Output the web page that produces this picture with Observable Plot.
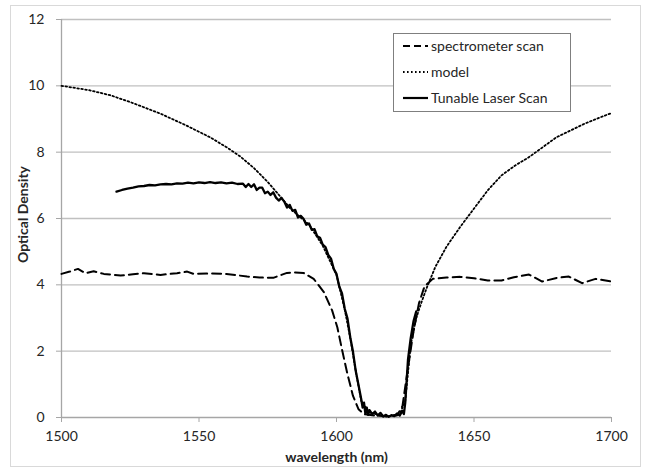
<!DOCTYPE html>
<html>
<head>
<meta charset="utf-8">
<script src="https://cdn.jsdelivr.net/npm/d3@7"></script>
<script src="https://cdn.jsdelivr.net/npm/@observablehq/plot@0.6"></script>
<style>
  body { margin: 0; background: #fff; }
  #chart { position: relative; width: 647px; height: 467px; font-family: Lato, "Open Sans", sans-serif; }
  #chart .outer { position: absolute; left: 10px; top: 5px; width: 631px; height: 462px; border: 1px solid #d9d9d9; box-sizing: border-box; pointer-events: none; }
  #chart .legend { position: absolute; left: 393px; top: 33px; }
</style>
</head>
<body>
<div id="chart"><div class="outer"></div></div>
<script>
// Axis ticks
const xTicks = [1500, 1550, 1600, 1650, 1700];
const yTicks = [0, 2, 4, 6, 8, 10, 12];

// Series names
const seriesNames = ["spectrometer scan", "model", "Tunable Laser Scan"];

// spectrometer scan: [wavelength nm, optical density]
const spectrometerScan = [
  [1500, 4.33], [1503, 4.40], [1506, 4.48], [1508.7, 4.35], [1511.7, 4.41], [1515.4, 4.33],
  [1521.5, 4.28], [1526, 4.32], [1530, 4.35], [1536, 4.30], [1542, 4.35], [1545.7, 4.40],
  [1548, 4.33], [1554, 4.34], [1560, 4.33], [1567.5, 4.25], [1572, 4.22], [1577, 4.21],
  [1582, 4.36], [1585, 4.37], [1588, 4.36], [1591.7, 4.18], [1595.4, 3.78], [1598.4, 3.23],
  [1600.3, 2.72], [1602, 2.05], [1604, 1.30], [1606, 0.65], [1608, 0.25], [1610, 0.10],
  [1614, 0.06], [1618, 0.04], [1622, 0.06], [1624, 0.35], [1626, 1.50], [1628, 2.60],
  [1630, 3.45], [1632, 3.95], [1635, 4.18], [1640, 4.22], [1645, 4.24], [1650, 4.20],
  [1655, 4.13], [1660, 4.13], [1664.5, 4.23], [1670, 4.31], [1674.8, 4.10], [1680.2, 4.21],
  [1684.5, 4.25], [1689.3, 4.05], [1694.2, 4.18], [1700, 4.10]
];

// model
const model = [
  [1500, 10.0], [1510, 9.87], [1518, 9.71], [1526, 9.48], [1536, 9.16], [1545, 8.82],
  [1554, 8.45], [1560, 8.15], [1565, 7.87], [1570, 7.52], [1575, 7.10], [1580, 6.62],
  [1583, 6.32], [1586, 6.10], [1590, 5.82], [1595, 5.18], [1600, 4.30], [1603, 3.25],
  [1605, 2.40], [1607, 1.40], [1609, 0.50], [1612, 0.15], [1618, 0.03], [1623, 0.10],
  [1625, 0.50], [1627, 2.20], [1629, 3.00], [1631, 3.50], [1633, 3.95], [1636, 4.55],
  [1640, 5.15], [1645, 5.75], [1650, 6.30], [1655, 6.85], [1660, 7.30], [1665, 7.60],
  [1670, 7.85], [1675, 8.15], [1680, 8.45], [1685, 8.65], [1690, 8.85], [1695, 9.02],
  [1700, 9.18]
];

// Tunable Laser Scan
const laserScan = [
  [1520, 6.81], [1522, 6.86], [1524, 6.90], [1526, 6.93], [1528, 6.97], [1530, 6.98],
  [1532, 7.01], [1534, 7.00], [1536, 7.03], [1538, 7.04], [1540, 7.03], [1542, 7.06],
  [1544, 7.05], [1546, 7.08], [1548, 7.06], [1550, 7.09], [1552, 7.07], [1554, 7.10],
  [1556, 7.07], [1558, 7.09], [1560, 7.06], [1562, 7.08], [1564, 7.04], [1566, 7.05],
  [1567, 6.95], [1568, 7.04], [1569, 6.95], [1570, 7.03], [1571, 6.86], [1572, 6.93],
  [1573, 6.93], [1574, 6.76], [1575, 6.81], [1576, 6.71], [1577, 6.79], [1578, 6.63],
  [1579, 6.54], [1580, 6.62], [1581, 6.51], [1582, 6.33], [1583, 6.41], [1584, 6.23],
  [1585, 6.26], [1586, 6.03], [1587, 6.08], [1588, 5.99], [1589, 5.81], [1590, 5.85],
  [1591, 5.66], [1592, 5.68], [1593, 5.46], [1594, 5.42], [1595, 5.21], [1596, 5.14],
  [1597, 4.90], [1598, 4.79], [1599, 4.48], [1600, 4.33], [1601, 3.95], [1602, 3.74],
  [1603, 3.28], [1604, 2.98], [1605, 2.42], [1606, 1.98], [1607, 1.40], [1608, 0.98],
  [1609, 0.55], [1609.5, 0.30], [1610, 0.45], [1610.5, 0.12], [1611, 0.30], [1611.5, 0.08],
  [1612, 0.22], [1613, 0.10], [1614, 0.18], [1615, 0.06], [1616, 0.14], [1617, 0.03],
  [1618, 0.08], [1619, 0.02], [1620, 0.07], [1621, 0.04], [1622, 0.12], [1623, 0.06],
  [1624, 0.20], [1624.5, 0.10], [1625, 0.45], [1625.5, 1.10], [1626, 1.75], [1627, 2.40],
  [1628, 2.90], [1629, 3.20]
];

const gridColor = "#c0c0c0";
const axisColor = "#a6a6a6";
const textColor = "#262626";
const fontFamily = "Lato, 'Open Sans', sans-serif";
const modelDash = "1.6,2.4";

const plot = Plot.plot({
  width: 647,
  height: 467,
  marginLeft: 61,
  marginRight: 36,
  marginTop: 19,
  marginBottom: 50,
  style: { fontFamily, fontSize: "14px", color: textColor, background: "transparent" },
  x: { domain: [1500, 1700] },
  y: { domain: [0, 12] },
  marks: [
    Plot.ruleY(yTicks.filter(d => d > 0), { stroke: gridColor, strokeWidth: 1.3 }),
    Plot.ruleY([0], { stroke: axisColor, strokeWidth: 1.3 }),
    Plot.ruleX([1500], { stroke: axisColor, strokeWidth: 1.3 }),
    Plot.axisX({ ticks: xTicks, tickSize: 5, tickPadding: 9, tickFormat: d => String(d), stroke: axisColor, fill: textColor, label: null }),
    Plot.axisY({ ticks: yTicks, tickSize: 5, tickPadding: 12, tickFormat: d => String(d), stroke: axisColor, fill: textColor, label: null }),
    Plot.line(spectrometerScan, { x: d => d[0], y: d => d[1], stroke: "black", strokeWidth: 2, strokeDasharray: "9,5" }),
    Plot.line(model, { x: d => d[0], y: d => d[1], stroke: "black", strokeWidth: 1.8, strokeDasharray: modelDash }),
    Plot.line(laserScan, { x: d => d[0], y: d => d[1], stroke: "black", strokeWidth: 2.3 }),
    Plot.text(["wavelength (nm)"], { frameAnchor: "bottom", dy: 40, fontWeight: "bold", fontSize: 14, fill: textColor, lineAnchor: "middle", textAnchor: "middle" }),
    Plot.text(["Optical Density"], { frameAnchor: "left", dx: -38, dy: -4, rotate: -90, fontWeight: "bold", fontSize: 14, fill: textColor, lineAnchor: "middle", textAnchor: "middle" })
  ]
});
document.getElementById("chart").appendChild(plot);

// Legend box
const legendStyles = [
  { dash: "7,4", width: 2 },
  { dash: modelDash, width: 1.8 },
  { dash: null, width: 2.2 }
];
const lg = d3.select("#chart").append("svg")
  .attr("class", "legend")
  .attr("width", 178).attr("height", 79);
lg.append("rect").attr("x", 0.5).attr("y", 0.5).attr("width", 177).attr("height", 78)
  .attr("fill", "white").attr("stroke", "#7f7f7f");
seriesNames.forEach((name, i) => {
  const y = 13 + i * 26;
  const ln = lg.append("line").attr("x1", 10).attr("x2", 35).attr("y1", y).attr("y2", y)
    .attr("stroke", "black").attr("stroke-width", legendStyles[i].width);
  if (legendStyles[i].dash) ln.attr("stroke-dasharray", legendStyles[i].dash);
  lg.append("text").attr("x", 38).attr("y", y).attr("dy", "0.35em")
    .attr("font-family", fontFamily).attr("font-size", 14).attr("fill", textColor).text(name);
});
</script>
</body>
</html>
